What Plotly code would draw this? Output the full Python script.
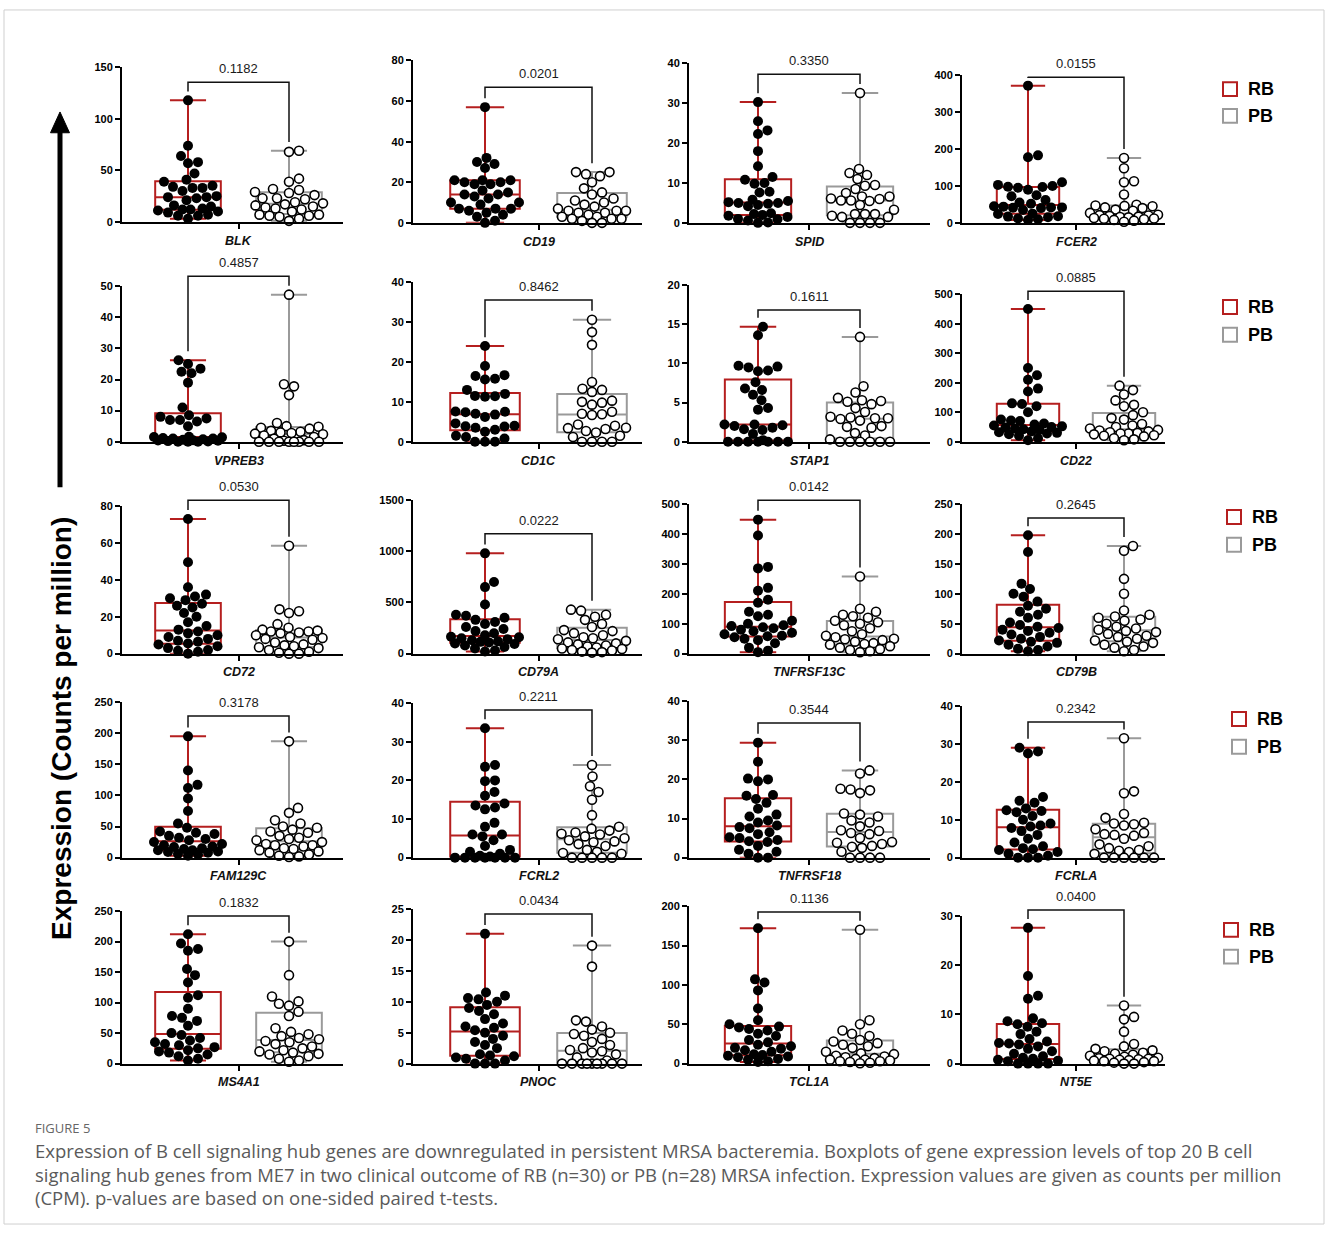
import numpy as np
import plotly.graph_objects as go

# ---------------- data ----------------
genes = ["BLK", "CD19", "SPID", "FCER2",
         "VPREB3", "CD1C", "STAP1", "CD22",
         "CD72", "CD79A", "TNFRSF13C", "CD79B",
         "FAM129C", "FCRL2", "TNFRSF18", "FCRLA",
         "MS4A1", "PNOC", "TCL1A", "NT5E"]
p_values = ["0.1182", "0.0201", "0.3350", "0.0155",
            "0.4857", "0.8462", "0.1611", "0.0885",
            "0.0530", "0.0222", "0.0142", "0.2645",
            "0.3178", "0.2211", "0.3544", "0.2342",
            "0.1832", "0.0434", "0.1136", "0.0400"]
y_max = [150, 80, 40, 400, 50, 40, 20, 500, 80, 1500, 500, 250, 250, 40, 40, 40, 250, 25, 200, 30]
y_dtick = [50, 20, 10, 100, 10, 10, 5, 100, 20, 500, 100, 50, 50, 10, 10, 10, 50, 5, 50, 10]
group_names = ["RB", "PB"]

rb_BLK = [118, 74, 64, 58, 57, 47, 41, 39, 35, 34, 33, 33, 30, 25, 24, 24, 23, 21, 16, 15, 13, 12, 12, 11, 10, 9, 7, 6, 6, 3]
pb_BLK = [69, 68, 42, 39, 32, 31, 29, 28, 26, 23, 23, 22, 19, 18, 17, 16, 15, 14, 13, 12, 10, 7, 7, 6, 6, 5, 3, 1]
rb_CD19 = [57, 32, 30, 29, 27, 21, 21, 21, 20, 20, 19, 19, 16, 15, 14, 14, 13, 12, 10, 10, 9, 7, 7, 7, 6, 5, 4, 3, 1, 0]
pb_CD19 = [25, 25, 24, 23, 20, 17, 15, 14, 12, 11, 10, 9, 8, 7, 6, 6, 6, 5, 5, 4, 3, 3, 2, 2, 2, 1, 0, 0]
rb_SPID = [30.3, 25.5, 23.2, 22.3, 18, 14.2, 11.5, 10.8, 10, 9.8, 7.8, 7.6, 5.8, 5.5, 5.2, 5, 5, 4.8, 4.5, 4.2, 2.4, 2.2, 2, 1.8, 1.5, 1, 0.9, 0.6, 0.1, 0]
pb_SPID = [32.6, 13.5, 12.5, 12, 11, 9.5, 9.3, 8.5, 7.5, 6.6, 6.6, 6.1, 6, 5.6, 5.6, 5.5, 4.5, 3.3, 2.2, 2.2, 2.2, 1.8, 1.5, 1.5, 0, 0, 0, 0]
rb_FCER2 = [372, 183, 178, 110, 103, 100, 98, 97, 95, 90, 75, 72, 62, 55, 52, 45, 44, 42, 42, 41, 40, 35, 25, 24, 18, 17, 15, 12, 10, 8]
pb_FCER2 = [176, 148, 113, 110, 77, 49, 47, 46, 45, 42, 40, 36, 33, 27, 22, 21, 20, 19, 17, 16, 15, 13, 12, 11, 10, 8, 6, 3]
rb_VPREB3 = [26.2, 25, 23.5, 22.5, 22, 19, 11, 8.5, 8, 7.5, 7, 7, 6.5, 5, 1.6, 1.5, 1.4, 1.2, 1, 1, 0.8, 0.6, 0.5, 0.4, 0.3, 0.2, 0.1, 0, 0, 0]
pb_VPREB3 = [47.3, 18.5, 17.8, 15, 6, 5, 4.8, 4.5, 4.2, 3.5, 3.2, 3, 2.8, 2.6, 2.4, 2, 1.5, 1, 0.5, 0.3, 0, 0, 0, 0, 0, 0, 0, 0]
rb_CD1C = [24, 19, 16.7, 16.5, 15.8, 15.6, 13, 12, 11.5, 11.4, 11.3, 7.6, 7.5, 7.4, 7, 6.8, 6.2, 4.6, 4, 3.9, 3.8, 3.5, 3, 2.5, 1.5, 1.2, 0.8, 0, 0, 0]
pb_CD1C = [30.6, 27.5, 24.3, 15, 13.3, 13, 12.5, 10.3, 10, 9.8, 9.3, 7.5, 7, 6.9, 6.7, 4.3, 4, 3.5, 3.4, 3.2, 2.7, 2.3, 1.5, 1.2, 0, 0, 0, 0]
rb_STAP1 = [14.7, 13.6, 9.7, 9.6, 9.5, 9.1, 9.0, 7.6, 6.8, 6.6, 6, 5.3, 4.3, 4.1, 2.2, 2.2, 2.1, 2, 1.8, 1.6, 1.5, 1, 0.2, 0, 0, 0, 0, 0, 0, 0]
pb_STAP1 = [13.4, 7.1, 6.3, 5.6, 5.3, 5.2, 5.1, 4.8, 4.3, 3.8, 3.2, 3.1, 3.0, 3.0, 2.9, 2.7, 2.0, 1.9, 1.8, 1.1, 0.8, 0.3, 0, 0, 0, 0, 0, 0]
rb_CD22 = [450, 250, 225, 210, 180, 170, 130, 128, 120, 100, 75, 72, 70, 62, 58, 55, 52, 50, 48, 45, 42, 40, 35, 32, 30, 28, 25, 20, 12, 5]
pb_CD22 = [190, 175, 160, 140, 125, 120, 100, 90, 80, 75, 60, 55, 50, 45, 40, 38, 35, 32, 30, 28, 28, 25, 22, 20, 18, 12, 8, 5]
rb_CD72 = [73, 49.5, 36, 32, 31, 30, 29, 27, 26, 25, 22, 20, 17, 15, 13, 12, 11, 10, 9, 8, 7, 6.5, 5.5, 5, 4, 3, 2, 1.5, 1, 0]
pb_CD72 = [58.5, 24, 23, 22, 16, 14, 13, 12.5, 12, 12, 11.5, 11, 10, 9, 8.5, 8, 7.5, 6, 5, 4.5, 4, 3.5, 3, 2, 1, 0.5, 0, 0]
rb_CD79A = [980, 700, 650, 480, 380, 370, 350, 330, 310, 290, 260, 240, 220, 200, 180, 165, 160, 150, 140, 130, 120, 115, 110, 100, 95, 80, 65, 50, 30, 20]
pb_CD79A = [430, 420, 380, 360, 330, 290, 260, 230, 220, 200, 180, 160, 150, 140, 125, 110, 100, 90, 80, 70, 60, 50, 45, 35, 30, 20, 15, 10]
rb_TNFRSF13C = [448, 395, 290, 285, 220, 210, 180, 170, 140, 130, 125, 110, 100, 95, 92, 88, 85, 80, 75, 70, 65, 60, 58, 55, 50, 45, 35, 20, 10, 5]
pb_TNFRSF13C = [258, 150, 140, 130, 125, 120, 110, 105, 100, 95, 85, 75, 65, 60, 55, 50, 48, 45, 40, 35, 32, 30, 25, 20, 15, 12, 8, 5]
rb_CD79B = [198, 170, 117, 108, 100, 95, 87, 80, 75, 70, 65, 60, 52, 48, 45, 43, 40, 38, 35, 32, 28, 25, 22, 20, 18, 15, 12, 8, 6, 4]
pb_CD79B = [180, 172, 125, 100, 72, 65, 62, 60, 57, 55, 50, 45, 42, 40, 38, 36, 33, 30, 28, 25, 22, 20, 18, 15, 12, 10, 6, 4]
rb_FAM129C = [195, 140, 117, 112, 95, 75, 55, 48, 42, 40, 38, 35, 32, 30, 28, 25, 22, 20, 18, 17, 15, 14, 12, 12, 10, 9, 8, 6, 5, 3]
pb_FAM129C = [187, 80, 72, 60, 55, 50, 48, 45, 42, 40, 35, 32, 30, 28, 25, 22, 20, 20, 18, 15, 14, 12, 10, 8, 5, 3, 2, 1]
rb_FCRL2 = [33.5, 24, 23.5, 20, 19.8, 17, 16, 14, 13.5, 13, 12.5, 9, 8, 6, 6, 5.5, 4.5, 3, 2, 1.5, 1, 0.5, 0.3, 0, 0, 0, 0, 0, 0, 0]
pb_FCRL2 = [24, 21, 18.5, 17, 15, 11, 8, 7.5, 7, 6.5, 6.2, 6, 5.5, 5, 4.5, 4.2, 4, 3.5, 3, 2, 1.5, 1.2, 1, 0, 0, 0, 0, 0]
rb_TNFRSF18 = [29.4, 24.5, 20.2, 20, 19.5, 16, 15.8, 15, 14, 12.5, 11, 10.5, 9.5, 9, 8.2, 7.8, 7.5, 6.5, 6, 5.2, 5, 4.5, 4.2, 4, 3, 2, 1.5, 1, 0, 0]
pb_TNFRSF18 = [22.3, 21.5, 17.6, 17.4, 17.2, 16.5, 11.3, 11, 10.5, 9.5, 9, 8, 7, 6.8, 6.3, 6, 5, 4, 3.8, 3.5, 3, 2.8, 2.5, 1.5, 0, 0, 0, 0]
rb_FCRLA = [29, 28, 27.5, 16, 15, 14.5, 13, 12.5, 12.3, 12, 11, 10, 9, 8.5, 8.2, 7.8, 7, 6, 5, 4, 3, 2.5, 2.2, 2, 1.5, 1, 0.5, 0, 0, 0]
pb_FCRLA = [31.5, 17.5, 17, 11.5, 10.5, 9.2, 9, 8.8, 8.5, 7.5, 6.5, 6.2, 6, 5.8, 5, 3.5, 3, 2.5, 2, 1.8, 1.5, 1, 0, 0, 0, 0, 0, 0]
rb_MS4A1 = [212, 197, 188, 185, 155, 145, 133, 112, 108, 90, 78, 75, 70, 62, 50, 47, 42, 38, 35, 32, 30, 27, 25, 22, 20, 18, 15, 12, 8, 5]
pb_MS4A1 = [200, 145, 110, 102, 98, 95, 85, 78, 58, 52, 48, 45, 42, 40, 37, 35, 32, 28, 25, 22, 20, 18, 16, 15, 12, 8, 5, 3]
rb_PNOC = [21, 11.5, 11, 10.6, 10.4, 10, 9.5, 9, 8.5, 8, 7.2, 6.5, 6, 5.8, 5.4, 5, 4.5, 4, 3.5, 3, 2.5, 1.5, 1.3, 1.2, 1, 0.8, 0.5, 0, 0, 0]
pb_PNOC = [19.1, 15.7, 7, 6.8, 6, 5.5, 5, 4.8, 4.5, 4, 3.5, 3, 2.5, 2.2, 2, 1.8, 1.5, 1, 0.5, 0, 0, 0, 0, 0, 0, 0, 0, 0]
rb_TCL1A = [172, 107, 103, 93, 70, 55, 50, 47, 46, 44, 42, 38, 35, 30, 27, 24, 22, 20, 19, 17, 15, 12, 11, 10, 9, 8, 6, 5, 3, 2]
pb_TCL1A = [170, 55, 50, 42, 38, 35, 30, 28, 26, 24, 22, 20, 15, 13, 12, 10, 9, 8, 7, 6, 5, 5, 4, 3, 3, 2, 1, 0.5]
rb_NT5E = [27.6, 17.8, 13.8, 13.2, 9.2, 8.6, 8.2, 8, 7.5, 6.5, 6, 5, 4.5, 4.2, 4.1, 3.9, 3.5, 3, 2.5, 2, 1.5, 1.2, 1, 0.8, 0.6, 0.5, 0, 0, 0, 0]
pb_NT5E = [11.8, 9.5, 9, 6.5, 4, 3.5, 3, 2.7, 2.5, 2.2, 2, 1.8, 1.6, 1.4, 1.2, 1.1, 1, 1, 0.9, 0.8, 0.7, 0.6, 0.5, 0.5, 0.3, 0.2, 0, 0]

rb_values = [rb_BLK, rb_CD19, rb_SPID, rb_FCER2, rb_VPREB3, rb_CD1C, rb_STAP1, rb_CD22,
             rb_CD72, rb_CD79A, rb_TNFRSF13C, rb_CD79B, rb_FAM129C, rb_FCRL2, rb_TNFRSF18, rb_FCRLA,
             rb_MS4A1, rb_PNOC, rb_TCL1A, rb_NT5E]
pb_values = [pb_BLK, pb_CD19, pb_SPID, pb_FCER2, pb_VPREB3, pb_CD1C, pb_STAP1, pb_CD22,
             pb_CD72, pb_CD79A, pb_TNFRSF13C, pb_CD79B, pb_FAM129C, pb_FCRL2, pb_TNFRSF18, pb_FCRLA,
             pb_MS4A1, pb_PNOC, pb_TCL1A, pb_NT5E]

caption_head = "FIGURE 5"
caption_lines = [
    "Expression of B cell signaling hub genes are downregulated in persistent MRSA bacteremia. Boxplots of gene expression levels of top 20 B cell",
    "signaling hub genes from ME7 in two clinical outcome of RB (n=30) or PB (n=28) MRSA infection. Expression values are given as counts per million",
    "(CPM). p-values are based on one-sided paired t-tests.",
]
y_title = "Expression (Counts per million)"

# ---------------- layout geometry (pixels) ----------------
W, H = 1328, 1233
col_axis_px = [122, 413, 689, 962]
col_len_px = [221, 229, 241, 203]
col_rb_off = [66, 72, 69, 66]
col_pb_off = [167, 179, 171, 162]
top_px = [62, 55, 58, 70, 283, 279, 282, 291, 505, 499, 503, 503, 703, 704, 702, 707, 914, 912, 909, 919]
zero_px = [218, 219, 219, 219, 440, 440, 440, 440, 654, 654, 654, 654, 860, 860, 860, 860, 1068, 1068, 1068, 1068]
bracket_px = [77, 82, 69, 72, 273, 297, 307, 288, 499, 533, 499, 517, 717, 711, 724, 723, 919, 917, 915, 913]
legend_px = [(1223, 84, 111), (1223, 304, 332), (1227, 516, 544), (1232, 720, 748), (1224, 933, 960)]

RED = "#B51F1F"
GRAY = "#9A9A9A"
FONT = "Arial, Liberation Sans, sans-serif"


def fx(px):
    return px / W


def fy(py):
    return 1 - py / H


def swarm(vals, pxu, d=10.0, limit=34.0):
    ypx = np.asarray(vals, float) * pxu
    n = len(ypx)
    order = np.argsort(ypx, kind="stable")
    steps = np.arange(0.5, limit + 1e-9, 0.5)
    cands = [0.0]
    for s in steps:
        cands += [s, -s]
    cands = np.array(cands)
    placed_x, placed_y = [], []
    out = np.zeros(n)
    for idx in order:
        y = ypx[idx]
        if placed_x:
            P = np.array(placed_x)
            Q = np.array(placed_y)
            dist = np.sqrt((cands[:, None] - P[None, :]) ** 2 + (y - Q[None, :]) ** 2).min(axis=1)
            ok = np.where(dist >= d)[0]
            ch = cands[ok[0]] if len(ok) else cands[np.argmax(dist)]
        else:
            ch = 0.0
        out[idx] = ch
        placed_x.append(ch)
        placed_y.append(y)
    return out


fig = go.Figure()
layout_axes = {}
shapes = []
annotations = []

for i, g in enumerate(genes):
    r, c = divmod(i, 4)
    ax0 = col_axis_px[c]
    L = col_len_px[c]
    ro, po = col_rb_off[c], col_pb_off[c]
    gap = po - ro
    xmin, xmax = -ro / gap, (L - ro) / gap
    top, zero = top_px[i], zero_px[i]
    ym = y_max[i]
    pxu = (zero - top) / ym
    k = i + 1
    sfx = "" if k == 1 else str(k)
    xa, ya = "x" + sfx, "y" + sfx

    layout_axes["xaxis" + sfx] = dict(
        domain=[fx(ax0), fx(ax0 + L)], range=[xmin, xmax], anchor=ya,
        showline=True, linecolor="black", linewidth=2, showgrid=False, zeroline=False,
        tickvals=[0.5], ticktext=[""], ticks="outside", ticklen=5, tickwidth=2, tickcolor="black",
        fixedrange=True)
    layout_axes["yaxis" + sfx] = dict(
        domain=[fy(zero), fy(top)], range=[0, ym], anchor=xa,
        showline=True, linecolor="black", linewidth=2, showgrid=False, zeroline=False,
        tickvals=list(range(0, ym + 1, y_dtick[i])), ticks="outside", ticklen=5, tickwidth=2,
        tickcolor="black", tickfont=dict(family=FONT, size=11, color="black", weight="bold"),
        fixedrange=True)

    for gi, (vals, col) in enumerate([(rb_values[i], RED), (pb_values[i], GRAY)]):
        v = np.asarray(vals, float)
        q1, med, q3 = np.percentile(v, [25, 50, 75], method="weibull")
        fig.add_trace(go.Box(
            x=[gi], q1=[q1], median=[med], q3=[q3], lowerfence=[v.min()], upperfence=[v.max()],
            width=0.65, whiskerwidth=0.55, boxpoints=False,
            line=dict(color=col, width=2), fillcolor="rgba(0,0,0,0)",
            xaxis=xa, yaxis=ya, showlegend=False, name=group_names[gi], hoverinfo="skip"))
        offs = swarm(v, pxu) / gap
        if gi == 0:
            marker = dict(size=10, color="black", line=dict(width=0))
        else:
            marker = dict(size=9, color="white", line=dict(width=1.6, color="black"))
        fig.add_trace(go.Scatter(
            x=gi + offs, y=v, mode="markers", marker=marker, cliponaxis=False,
            xaxis=xa, yaxis=ya, showlegend=False, name=group_names[gi]))

    # significance bracket (pixel -> paper)
    xr = ax0 + ro
    xp = ax0 + po
    b = bracket_px[i]
    rb_end = zero - max(rb_values[i]) * pxu - 9
    pb_end = zero - max(pb_values[i]) * pxu - 9
    path = (f"M {fx(xr)} {fy(rb_end)} L {fx(xr)} {fy(b)} L {fx(xp)} {fy(b)} L {fx(xp)} {fy(pb_end)}")
    shapes.append(dict(type="path", xref="paper", yref="paper", path=path,
                       line=dict(color="#111111", width=1.5)))
    annotations.append(dict(x=fx((xr + xp) / 2), y=fy(b - 4), xref="paper", yref="paper",
                            text=p_values[i], showarrow=False, xanchor="center", yanchor="bottom",
                            font=dict(family=FONT, size=13, color="#1a1a1a")))
    annotations.append(dict(x=fx(ax0 + (ro + po) / 2), y=fy(zero + 19), xref="paper", yref="paper",
                            text=g, showarrow=False, xanchor="center", yanchor="middle",
                            font=dict(family=FONT, size=12.5, color="#111111", weight="bold", style="italic")))

# legends per row
for (lx, yrb, ypb) in legend_px:
    for yy, col, name in [(yrb, RED, "RB"), (ypb, GRAY, "PB")]:
        shapes.append(dict(type="rect", xref="paper", yref="paper",
                           x0=fx(lx), x1=fx(lx + 14), y0=fy(yy + 7), y1=fy(yy - 7),
                           line=dict(color=col, width=2), fillcolor="white"))
        annotations.append(dict(x=fx(lx + 23), y=fy(yy), xref="paper", yref="paper", text=name,
                                showarrow=False, xanchor="left", yanchor="middle",
                                font=dict(family=FONT, size=18, color="black", weight="bold")))

# y-axis title and arrow
annotations.append(dict(x=fx(62), y=fy(730), xref="paper", yref="paper", text=y_title,
                        showarrow=False, textangle=-90, xanchor="center", yanchor="middle",
                        font=dict(family=FONT, size=28, color="black", weight="bold")))
shapes.append(dict(type="line", xref="paper", yref="paper", x0=fx(60), x1=fx(60), y0=fy(486), y1=fy(125),
                   line=dict(color="black", width=5)))
shapes.append(dict(type="path", xref="paper", yref="paper",
                   path=f"M {fx(50.5)} {fy(128)} L {fx(69.5)} {fy(128)} L {fx(60)} {fy(107)} Z",
                   fillcolor="black", line=dict(color="black", width=1)))

# caption
annotations.append(dict(x=fx(33), y=fy(1133), xref="paper", yref="paper", text=caption_head,
                        showarrow=False, xanchor="left", yanchor="middle",
                        font=dict(family="Open Sans", size=13, color="#666666")))
for j, line in enumerate(caption_lines):
    annotations.append(dict(x=fx(33), y=fy(1156 + 23.5 * j), xref="paper", yref="paper", text=line,
                            showarrow=False, xanchor="left", yanchor="middle",
                            font=dict(family="Open Sans", size=18.5, color="#5a5a5a")))

# frame
shapes.append(dict(type="rect", xref="paper", yref="paper", x0=fx(4), x1=fx(1324), y0=fy(1230), y1=fy(4),
                   line=dict(color="#cfcfcf", width=1), layer="below"))

fig.update_layout(
    width=W, height=H, margin=dict(l=0, r=0, t=0, b=0),
    paper_bgcolor="white", plot_bgcolor="rgba(0,0,0,0)",
    showlegend=False, shapes=shapes, annotations=annotations,
    font=dict(family=FONT), **layout_axes)

fig.write_html("out.html", config={"displayModeBar": False},
               post_script="document.body.style.margin='0px';")
